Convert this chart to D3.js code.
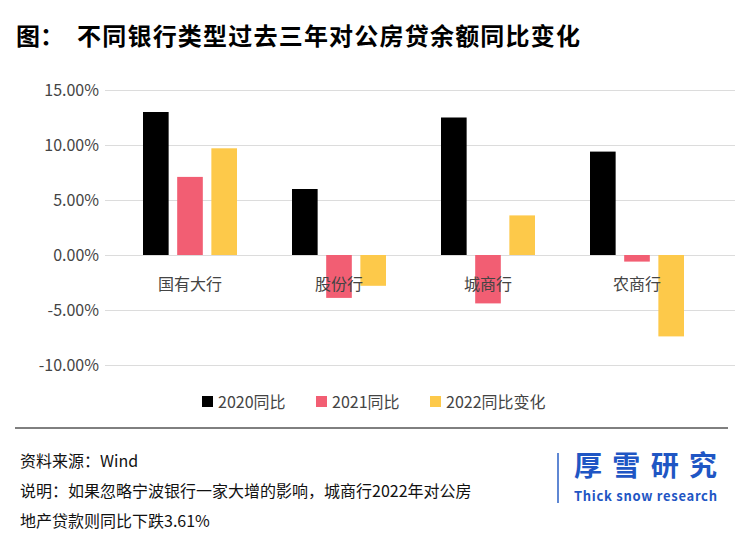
<!DOCTYPE html>
<html><head><meta charset="utf-8">
<script src="https://cdn.jsdelivr.net/npm/d3@7"></script>
<style>body{margin:0;background:#fff;font-family:"Noto Sans CJK SC","Noto Sans",sans-serif}</style>
</head><body>
<script>
const categories = ["国有大行", "股份行", "城商行", "农商行"];
const seriesNames = ["2020同比", "2021同比", "2022同比变化"];
const v2020 = [13.0, 6.0, 12.5, 9.4];
const v2021 = [7.1, -3.9, -4.4, -0.6];
const v2022 = [9.7, -2.8, 3.6, -7.4];
const ticks = [15, 10, 5, 0, -5, -10];
const colors = ["#000000", "#f25e73", "#fdc94a"];

const W = 745, H = 547;
const svg = d3.select("body").append("svg").attr("width", W).attr("height", H);
const font = '"Noto Sans CJK SC", sans-serif';

svg.append("text").attr("x", 16).attr("y", 45).attr("font-size", 24).attr("font-weight", "bold")
  .attr("font-family", font).text("图：");
svg.append("text").attr("x", 77).attr("y", 45).attr("font-size", 24).attr("font-weight", "bold")
  .attr("font-family", font).attr("textLength", 503).text("不同银行类型过去三年对公房贷余额同比变化");

const y = d3.scaleLinear().domain([-10, 15]).range([365, 90]);
const x = d3.scaleBand().domain(categories).range([117, 713]);
const xs = d3.scaleBand().domain(seriesNames).range([26, 120]).paddingInner(0.25);

const yAxis = svg.append("g").attr("transform", "translate(105,0)")
  .call(d3.axisLeft(y).tickValues(ticks).tickSize(-630).tickFormat(d => d.toFixed(2) + "%"));
yAxis.select(".domain").remove();
yAxis.selectAll("line").attr("stroke", "#dcdcdc");
yAxis.selectAll("text").attr("font-size", 16).attr("fill", "#444").attr("x", -6).attr("font-family", font);

const data = [v2020, v2021, v2022];
data.forEach((vals, si) => {
  svg.append("g").selectAll("rect").data(vals).join("rect")
    .attr("x", (d, i) => x(categories[i]) + xs(seriesNames[si]))
    .attr("width", xs.bandwidth())
    .attr("y", d => y(Math.max(0, d)))
    .attr("height", d => Math.abs(y(d) - y(0)))
    .attr("fill", colors[si]);
});

svg.append("g").selectAll("text").data(categories).join("text")
  .attr("x", d => x(d) + 73).attr("y", 290)
  .attr("text-anchor", "middle").attr("font-size", 16).attr("fill", "#444")
  .attr("font-family", font).text(d => d);

const lx = [202, 316, 430];
const lg = svg.append("g").selectAll("g").data(seriesNames).join("g")
  .attr("transform", (d, i) => `translate(${lx[i]},396)`);
lg.append("rect").attr("width", 11).attr("height", 11).attr("fill", (d, i) => colors[i]);
lg.append("text").attr("x", 16).attr("y", 12).attr("font-size", 16).attr("fill", "#444")
  .attr("font-family", font).text(d => d);

svg.append("line").attr("x1", 15).attr("x2", 728).attr("y1", 428).attr("y2", 428).attr("stroke", "#000");

const notes = ["资料来源：Wind", "说明：如果忽略宁波银行一家大增的影响，城商行2022年对公房", "地产贷款则同比下跌3.61%"];
svg.append("g").selectAll("text").data(notes).join("text")
  .attr("x", 20).attr("y", (d, i) => 467 + i * 30).attr("font-size", 16).attr("fill", "#111")
  .attr("font-family", font).text(d => d);

svg.append("line").attr("x1", 558).attr("x2", 558).attr("y1", 453).attr("y2", 503).attr("stroke", "#2a5fc4").attr("stroke-width", 1.5);
svg.append("text").attr("x", 574).attr("y", 476).attr("font-size", 28).attr("font-weight", "bold")
  .attr("fill", "#1f56c4").attr("font-family", font).attr("textLength", 143).text("厚雪研究");
svg.append("text").attr("x", 574).attr("y", 501).attr("font-size", 13).attr("font-weight", "bold")
  .attr("fill", "#1f56c4").attr("font-family", font).attr("textLength", 143).text("Thick snow research");
</script>
</body></html>
